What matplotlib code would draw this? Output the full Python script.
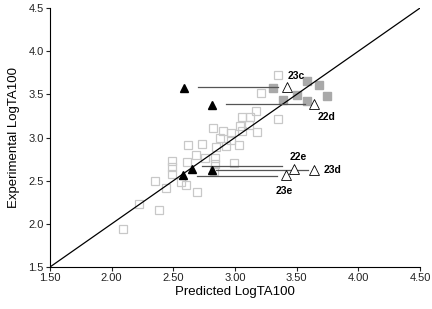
import matplotlib
matplotlib.use("Agg")
import matplotlib.pyplot as plt

plt.rcParams["font.family"] = ["Liberation Sans", "DejaVu Sans"]

# training-set compounds (open grey squares)
train_x = [2.09, 2.22, 2.38, 2.35, 2.44, 2.56, 2.60, 2.69, 2.49, 2.49, 2.49, 2.61,
           2.68, 2.62, 2.73, 2.84, 2.84, 2.83, 2.99, 2.82, 2.90, 2.97, 3.06, 3.18,
           2.88, 2.85, 2.93, 3.03, 2.97, 3.06, 3.12, 3.17, 3.21, 3.35, 3.35, 3.11,
           3.04, 2.76]
train_y = [1.94, 2.23, 2.16, 2.50, 2.41, 2.49, 2.45, 2.37, 2.73, 2.66, 2.58, 2.72,
           2.80, 2.91, 2.93, 2.76, 2.69, 2.61, 2.71, 3.11, 3.08, 3.05, 3.07, 3.06,
           2.99, 2.89, 2.90, 2.91, 2.97, 3.24, 3.24, 3.31, 3.52, 3.72, 3.22, 3.14,
           3.13, 2.76]

# grey filled squares
grey_x = [3.31, 3.58, 3.68, 3.75, 3.50, 3.39, 3.58]
grey_y = [3.57, 3.66, 3.61, 3.48, 3.49, 3.43, 3.42]

# compounds: original prediction (filled) and new prediction (open)
labels = ["23c", "22d", "22e", "23d", "23e"]
filled_x = [2.59, 2.81, 2.65, 2.81, 2.58]
filled_y = [3.57, 3.38, 2.64, 2.62, 2.57]
open_x = [3.42, 3.64, 3.48, 3.64, 3.41]
open_y = [3.58, 3.39, 2.64, 2.62, 2.57]

# connecting lines
line_y = [3.58, 3.385, 2.665, 2.62, 2.555]
line_x0 = [2.70, 2.93, 2.73, 2.85, 2.69]
line_x1 = [3.35, 3.57, 3.38, 3.59, 3.34]

# label positions
label_x = [3.495, 3.745, 3.515, 3.72, 3.40]
label_y = [3.71, 3.24, 2.78, 2.625, 2.38]
label_ha = ["center", "center", "center", "left", "center"]

fig = plt.figure(figsize=(4.32, 3.09), dpi=100)
ax = fig.add_axes([0.1157, 0.1359, 0.8565, 0.838])

ax.plot([1.5, 4.5], [1.5, 4.5], color="black", lw=0.9, zorder=3)

ax.plot(train_x, train_y, "s", ms=6, mfc="none", mec="#c8c8c8", mew=0.9, zorder=2)
ax.plot(grey_x, grey_y, "s", ms=5.5, mfc="#a9a9a9", mec="#a9a9a9", zorder=2)

for y, x0, x1 in zip(line_y, line_x0, line_x1):
    ax.plot([x0, x1], [y, y], color="#555555", lw=0.9, zorder=3)

ax.plot(filled_x, filled_y, "^", ms=6, color="black", zorder=4)
ax.plot(open_x, open_y, "^", ms=7.5, mfc="white", mec="black", mew=0.6, zorder=4)

for lab, x, y, ha in zip(labels, label_x, label_y, label_ha):
    ax.text(x, y, lab, fontsize=7.5, fontweight="bold", ha=ha, va="center", zorder=5)

ax.set_xlim(1.5, 4.5)
ax.set_ylim(1.5, 4.5)
ax.set_xticks([1.5, 2.0, 2.5, 3.0, 3.5, 4.0, 4.5])
ax.set_xticklabels(["1.50", "2.00", "2.50", "3.00", "3.50", "4.00", "4.50"])
ax.set_yticks([1.5, 2.0, 2.5, 3.0, 3.5, 4.0, 4.5])
ax.set_yticklabels(["1.5", "2.0", "2.5", "3.0", "3.5", "4.0", "4.5"])
ax.tick_params(labelsize=8, length=3, width=0.8, pad=1.5, colors="#222222")
for side in ["top", "right"]:
    ax.spines[side].set_visible(False)
for side in ["left", "bottom"]:
    ax.spines[side].set_linewidth(0.8)

ax.set_xlabel("Predicted LogTA100", fontsize=9.5, labelpad=2)
ax.set_ylabel("Experimental LogTA100", fontsize=9.5, labelpad=6)

fig.savefig("out.png", dpi=100)
